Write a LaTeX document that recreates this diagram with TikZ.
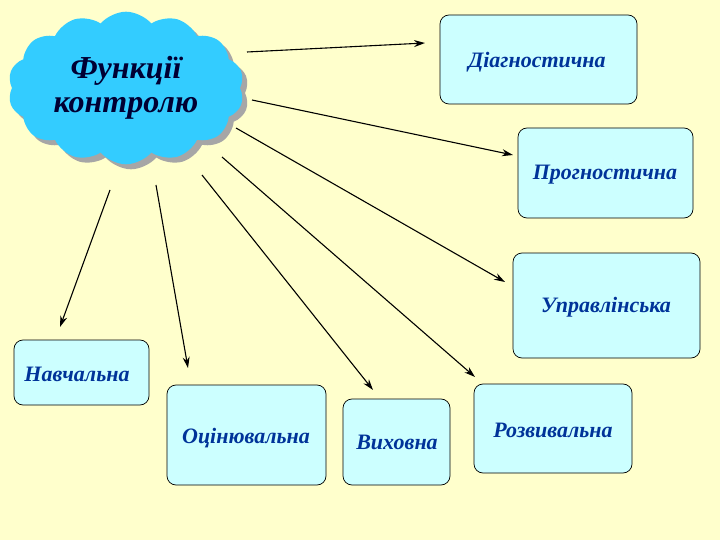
\documentclass[tikz,border=0pt]{standalone}
\usepackage{fontspec}
\setmainfont{Liberation Serif}
\usetikzlibrary{shapes.symbols,shadows,arrows.meta}
\definecolor{bg}{HTML}{FFFFCC}
\definecolor{boxfill}{HTML}{CCFFFF}
\definecolor{cloudfill}{HTML}{33CCFF}
\definecolor{txt}{HTML}{003399}
\definecolor{navy}{HTML}{000033}
\tikzset{
  fbox/.style={draw=black, fill=boxfill, rounded corners=9pt, line width=0.7pt, inner sep=0pt},
  ftxt/.style={text=txt, font=\bfseries\itshape\fontsize{22}{25}\selectfont},
  arr/.style={-{Stealth[length=11pt,width=7pt]}, line width=1.1pt}
}
\begin{document}
\begin{tikzpicture}[x=1pt,y=-1pt]
\fill[bg] (0,0) rectangle (720,540);
\useasboundingbox (0,0) rectangle (720,540);
\node[cloud, cloud puffs=14, cloud puff arc=100, aspect=1.6, fill=cloudfill, minimum width=236pt, minimum height=140pt,
  drop shadow={shadow xshift=5pt, shadow yshift=-5pt, fill=gray!70, opacity=1},
  align=center, font=\bfseries\itshape\fontsize{32}{34}\selectfont, text=navy] (c) at (126,88) {Функції\\контролю};
\node[fbox, minimum width=197pt, minimum height=89pt] (d) at (538.5,59.5) {};
\node[ftxt] (dt) at (537,62) {Діагностична};
\node[fbox, minimum width=175pt, minimum height=90pt] (p) at (605.5,173) {};
\node[ftxt] (pt) at (605,175) {Прогностична};
\node[fbox, minimum width=187pt, minimum height=105pt] (u) at (606.5,305.5) {};
\node[ftxt] (ut) at (606,307) {Управлінська};
\node[fbox, minimum width=135pt, minimum height=65pt] (n) at (81.5,372.5) {};
\node[ftxt] (nt) at (77,374) {Навчальна};
\node[fbox, minimum width=159pt, minimum height=100pt] (o) at (246.5,435) {};
\node[ftxt] (ot) at (246,438) {Оцінювальна};
\node[fbox, minimum width=107pt, minimum height=86pt] (v) at (396.5,442) {};
\node[ftxt] (vt) at (397,442) {Виховна};
\node[fbox, minimum width=158pt, minimum height=89pt] (r) at (553,428.5) {};
\node[ftxt] (rt) at (553,430) {Розвивальна};
\coordinate (s1) at (247,52);  \coordinate (e1) at (425,43);
\coordinate (s2) at (252,100); \coordinate (e2) at (513,155);
\coordinate (s3) at (236,128); \coordinate (e3) at (505,282);
\coordinate (s4) at (222,157); \coordinate (e4) at (475,377);
\coordinate (s5) at (202,175); \coordinate (e5) at (373,390);
\coordinate (s6) at (156,185); \coordinate (e6) at (188,368);
\coordinate (s7) at (110,190); \coordinate (e7) at (60,327);
\foreach \i in {1,...,7} \draw[arr] (s\i) -- (e\i);
\end{tikzpicture}
\end{document}
